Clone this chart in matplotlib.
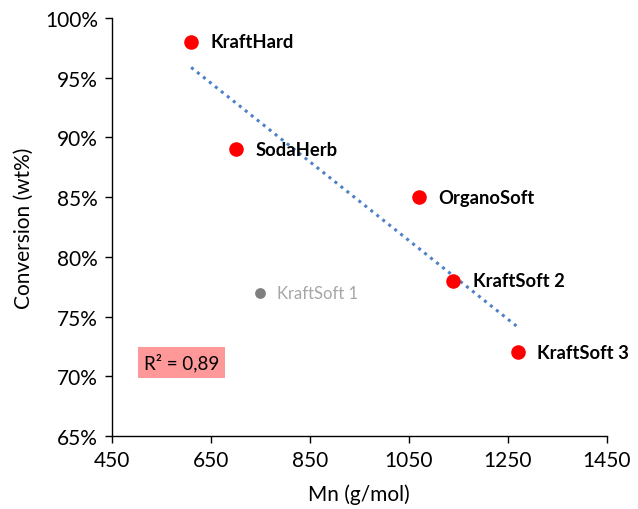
import numpy as np
import matplotlib
matplotlib.use("Agg")
import matplotlib.pyplot as plt
from matplotlib.patches import Rectangle

plt.rcParams['font.family'] = ['Lato', 'DejaVu Sans']

names = ["KraftHard", "SodaHerb", "OrganoSoft", "KraftSoft 2", "KraftSoft 3"]
mn = [610, 700, 1070, 1140, 1270]
conv = [98, 89, 85, 78, 72]
out_name = "KraftSoft 1"
out_mn = 750
out_conv = 77

xticks = [450, 650, 850, 1050, 1250, 1450]
yticks = [65, 70, 75, 80, 85, 90, 95, 100]

fig = plt.figure(figsize=(6.38, 5.10), dpi=100)
ax = fig.add_axes([0.1755, 0.143, 0.7755, 0.82])

# trendline
coef = np.polyfit(mn, conv, 1)
xs = np.array([min(mn), max(mn)])
ax.plot(xs, np.polyval(coef, xs), linestyle=(0, (1, 1.5)), color='#4F81C7', lw=2.2, zorder=2)
pred = np.polyval(coef, mn)
r2 = 1 - np.sum((np.array(conv) - pred) ** 2) / np.sum((np.array(conv) - np.mean(conv)) ** 2)

ax.scatter(mn, conv, s=110, color='#FF0000', zorder=3, linewidths=0)
ax.scatter([out_mn], [out_conv], s=60, color='#7F7F7F', zorder=3, linewidths=0)

for n, x, y in zip(names, mn, conv):
    ax.annotate(n, (x, y), xytext=(14, 0), textcoords='offset points',
                va='center', ha='left', fontsize=13.2, fontweight='bold', color='black')
ax.annotate(out_name, (out_mn, out_conv), xytext=(12, 0), textcoords='offset points',
            va='center', ha='left', fontsize=12, color='#A6A6A6')

# R² label box
bx0, bw, by0, bh = 0.0525, 0.176, 0.139, 0.074
ax.add_patch(Rectangle((bx0, by0), bw, bh, transform=ax.transAxes,
                       facecolor='#FF9999', edgecolor='none', zorder=1))
ax.text(bx0 + bw / 2, by0 + bh / 2, "R² = " + f"{r2:.2f}".replace('.', ','),
        transform=ax.transAxes, fontsize=13.5, ha='center', va='center', zorder=2)

ax.set_xlim(450, 1450)
ax.set_ylim(65, 100)
ax.set_xticks(xticks)
ax.set_xticklabels([str(t) for t in xticks])
ax.set_yticks(yticks)
ax.set_yticklabels([f"{t}%" for t in yticks])
ax.tick_params(axis='both', labelsize=15, direction='out', length=5, width=1, color='black', pad=5)
ax.spines['top'].set_visible(False)
ax.spines['right'].set_visible(False)
ax.spines['left'].set_linewidth(1)
ax.spines['bottom'].set_linewidth(1)
ax.set_xlabel("Mn (g/mol)", fontsize=15, labelpad=10)
ax.set_ylabel("Conversion (wt%)", fontsize=15, labelpad=8)

fig.savefig("out.png", dpi=100)
